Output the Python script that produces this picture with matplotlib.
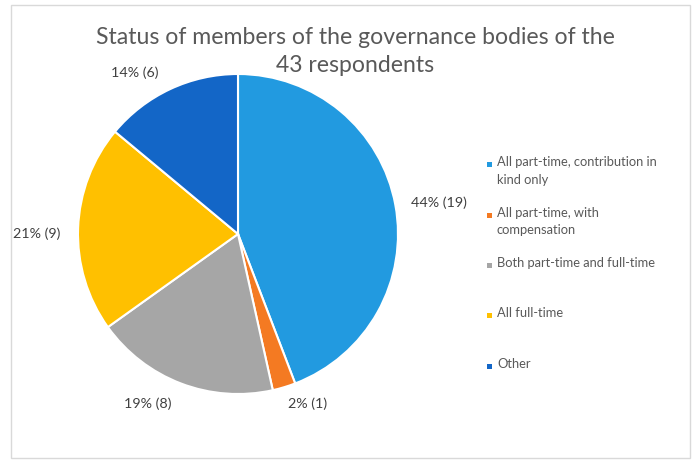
import numpy as np
import matplotlib
matplotlib.use("Agg")
import matplotlib.pyplot as plt
from matplotlib.patches import Rectangle

plt.rcParams['font.family'] = ['Lato', 'DejaVu Sans']

title_lines = ["Status of members of the governance bodies of the", "43 respondents"]
categories = [
    "All part-time, contribution in\nkind only",
    "All part-time, with\ncompensation",
    "Both part-time and full-time",
    "All full-time",
    "Other",
]
counts = [19, 1, 8, 9, 6]
colors = ["#229AE0", "#F47A22", "#A6A6A6", "#FFC000", "#1366C7"]

# radial distance and angle nudge (degrees) for each data label
label_dist = [1.27, 1.15, 1.20, 1.26, 1.20]
label_nudge = [-1.5, 5.6, -7, 2, 7.5]

W, H = 693, 465
fig = plt.figure(figsize=(W / 100, H / 100), dpi=100)
fig.patch.set_facecolor("white")

# light chart-area border
fig.add_artist(Rectangle((11 / W, 1 - 458 / H), (690 - 11) / W, (458 - 5) / H,
                         transform=fig.transFigure, fill=False,
                         edgecolor="#D9D9D9", linewidth=1.0))

# pie centred at (238, 234) px with radius 160 px
cx, cy, r = 238, H - 234, 160
half = 1.25 * r
ax = fig.add_axes([(cx - half) / W, (cy - half) / H, 2 * half / W, 2 * half / H])
ax.set_xlim(-1.25, 1.25)
ax.set_ylim(-1.25, 1.25)
ax.set_aspect("equal")
ax.axis("off")

wedges, _ = ax.pie(counts, colors=colors, startangle=90, counterclock=False,
                   radius=1.0, wedgeprops=dict(edgecolor="white", linewidth=1.5))

total = sum(counts)
for w, n, d, nudge in zip(wedges, counts, label_dist, label_nudge):
    mid = np.deg2rad((w.theta1 + w.theta2) / 2 + nudge)
    txt = f"{n / total * 100:.0f}% ({n})"
    ax.text(d * np.cos(mid), d * np.sin(mid), txt, ha="center", va="center",
            fontsize=10.3, color="#404040", clip_on=False)

# title, one line per call so each line keeps its own extent
for line, y in zip(title_lines, [37, 65]):
    fig.text(355 / W, 1 - y / H, line, ha="center", va="center",
             fontsize=16.6, color="#595959")

# legend entries
for i, (lab, col) in enumerate(zip(categories, colors)):
    y = 165 + i * 50.3
    fig.patches.append(Rectangle((487 / W, 1 - (y + 2.5) / H), 5 / W, 5 / H,
                                 transform=fig.transFigure, facecolor=col,
                                 edgecolor="none"))
    fig.text(497 / W, 1 - (y - 8.5) / H, lab, ha="left", va="top",
             fontsize=9.25, color="#595959", linespacing=1.5)

fig.savefig("out.png", dpi=100)
